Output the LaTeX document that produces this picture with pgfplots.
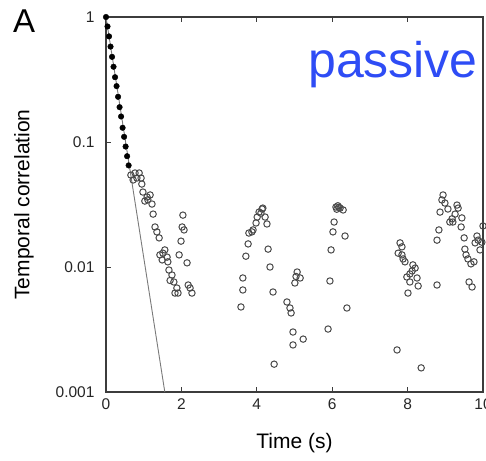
\documentclass[border=0pt]{standalone}
\usepackage{fontspec}
\setmainfont{Liberation Sans}
\usepackage{pgfplots}
\pgfplotsset{compat=1.18}
\definecolor{axisgray}{HTML}{3C3C3C}
\definecolor{markgray}{HTML}{4A4A4A}
\definecolor{linegray}{HTML}{7A7A7A}
\definecolor{passiveblue}{HTML}{2E4CF5}

\begin{document}
\begin{tikzpicture}
\begin{axis}[
    at={(0,0)}, anchor=south west,
    scale only axis,
    width=377pt, height=375pt,
    xmin=0, xmax=10,
    ymode=log, ymin=0.001, ymax=1,
    xtick={0,2,4,6,8,10},
    xticklabels={0,2,4,6,8,10},
    ytick={0.001,0.01,0.1,1},
    yticklabels={0.001,0.01,0.1,1},
    yminorticks=false,
    tick align=inside,
    major tick length=5pt,
    xtick pos=both, ytick pos=left,
    tick style={axisgray, line width=0.8pt},
    axis line style={axisgray, line width=2pt},
    ticklabel style={font=\fontsize{15.5}{18}\selectfont, text=black!85},
    xticklabel style={yshift=-3pt},
    yticklabel style={xshift=-8pt},
    xlabel={Time (s)},
    ylabel={Temporal correlation},
    xlabel style={font=\fontsize{21}{25}\selectfont, at={(axis description cs:0.5,0)}, anchor=north, yshift=-41pt, inner sep=0pt},
    ylabel style={font=\fontsize{21}{25}\selectfont, at={(axis description cs:-0.2175,0.5)}, anchor=center, inner sep=0pt},
    clip=false,
]

% exponential fit line
\addplot[linegray, line width=0.9pt] coordinates {(0,1) (1.56,0.001)};

% open circles: later frames
\addplot[only marks, mark=o, mark size=3.2pt, mark options={draw=markgray, line width=1pt}]
coordinates {
(0.66,0.0544) (0.77,0.0565) (0.88,0.0565) (0.72,0.0497) (0.82,0.0515)
(0.93,0.0515) (0.95,0.0461) (0.98,0.0398) (1.09,0.0363) (1.17,0.0377)
(1.03,0.0337) (1.22,0.0319) (1.11,0.0345) (1.25,0.0265) (1.30,0.0209)
(1.35,0.0191) (1.41,0.0171) (1.43,0.0125) (1.51,0.0129) (1.62,0.0120)
(1.49,0.0114) (1.64,0.0110) (1.56,0.0137) (1.67,0.00946) (1.75,0.00863)
(1.70,0.00780) (1.80,0.00759) (1.88,0.00679) (1.83,0.00619) (1.91,0.00619)
(2.04,0.0260) (2.02,0.0209) (2.07,0.0198) (1.99,0.0161) (1.94,0.0125)
(2.15,0.0108) (2.18,0.00718) (2.23,0.00679) (2.28,0.00619)
(3.58,0.00479) (3.63,0.00655) (3.63,0.00817) (3.71,0.0122) (3.77,0.0153)
(3.79,0.0187) (3.87,0.0191) (3.90,0.0198) (3.98,0.0225) (4.01,0.0251)
(4.06,0.0275) (4.14,0.0291) (4.16,0.0296) (4.11,0.0270) (4.22,0.0251)
(4.27,0.0221) (4.30,0.0139) (4.35,0.0100) (4.43,0.00631) (4.46,0.00167)
(4.80,0.00525) (4.88,0.00470) (4.91,0.00429) (4.96,0.00302) (4.96,0.00238)
(5.23,0.00265) (5.01,0.00745) (5.07,0.00912) (5.15,0.00817) (5.04,0.00840)
(5.89,0.00319) (5.94,0.00773) (5.97,0.0137) (6.02,0.0191) (6.05,0.0229)
(6.10,0.0302) (6.15,0.0309) (6.21,0.0296) (6.29,0.0286) (6.34,0.0177)
(6.39,0.00470) (6.12,0.0290) (6.18,0.0300)
(7.72,0.00217) (7.80,0.0156) (7.85,0.0145) (7.75,0.0129) (7.85,0.0125)
(7.88,0.0116) (7.93,0.0110) (8.14,0.0104) (8.20,0.0098) (8.12,0.0093)
(8.06,0.00880) (7.98,0.00832) (8.25,0.00817) (8.06,0.00759) (8.28,0.00705)
(8.01,0.00619) (8.36,0.00156) (8.78,0.00718)
(8.94,0.0377) (8.91,0.0344) (8.99,0.0325) (8.86,0.0275) (9.07,0.0291)
(9.31,0.0313) (9.34,0.0296) (9.26,0.0265) (9.18,0.0243) (9.12,0.0229)
(9.20,0.0229) (9.44,0.0247) (9.42,0.0209) (8.83,0.0198) (8.78,0.0164)
(9.50,0.0171) (9.52,0.0139) (9.55,0.0125) (9.60,0.0116) (9.68,0.0106)
(9.76,0.0110) (9.84,0.0177) (9.87,0.0164) (9.79,0.0156) (9.97,0.0158)
(9.92,0.0137) (10.0,0.0213) (9.63,0.00759) (9.71,0.00692)
};

% filled dots: first frames
\addplot[only marks, mark=*, mark size=2.8pt, mark options={fill=black, draw=black}]
coordinates {
(0,1) (0.04,0.84) (0.08,0.70) (0.12,0.58) (0.16,0.48) (0.20,0.40)
(0.24,0.33) (0.28,0.28) (0.32,0.23) (0.36,0.19) (0.40,0.16) (0.44,0.13)
(0.48,0.11) (0.52,0.092) (0.56,0.077) (0.60,0.065)
};

\end{axis}
\node[anchor=north west, inner sep=0pt, font=\fontsize{33}{36}\selectfont] at (-93pt,382pt) {A};
\node[anchor=base west, inner sep=0pt, text=passiveblue, font=\fontsize{50}{56}\selectfont] at (202pt,314pt) {passive};
\pgfresetboundingbox
\path[use as bounding box] (-106pt,-68pt) rectangle (380pt,392pt);
\end{tikzpicture}
\end{document}
